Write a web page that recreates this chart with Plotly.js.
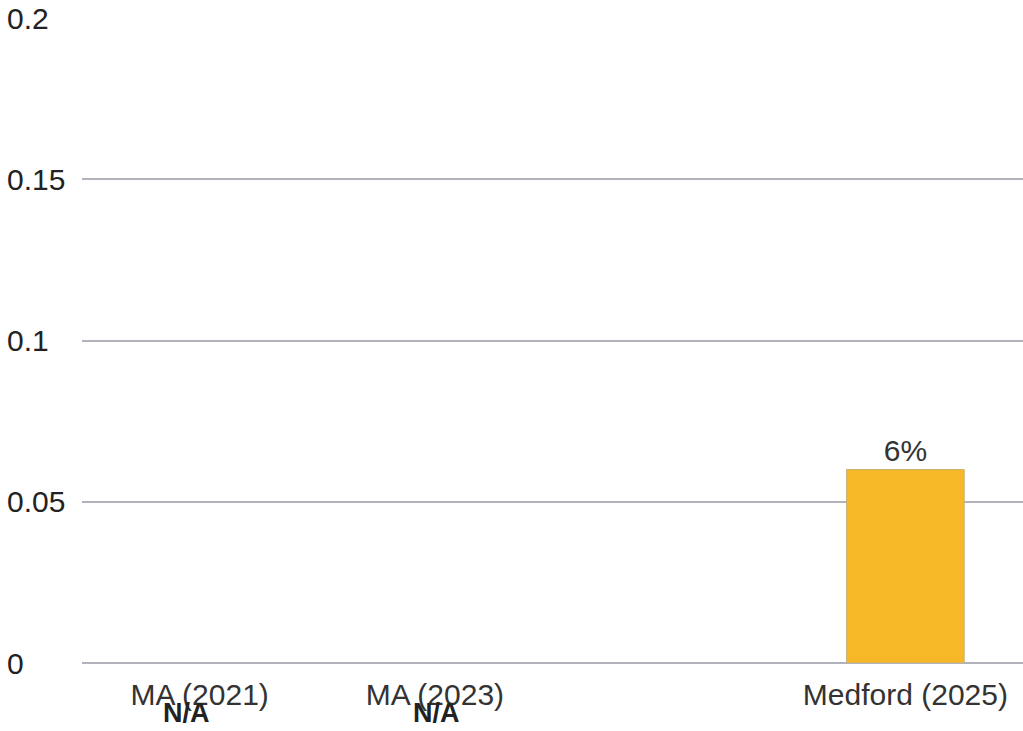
<!DOCTYPE html>
<html>
<head>
<meta charset="utf-8">
<script src="https://cdn.plot.ly/plotly-3.0.1.min.js"></script>
<style>html,body{margin:0;padding:0;background:#fff;}#chart{width:1023px;height:731px;}</style>
</head>
<body>
<div id="chart"></div>
<script>
const categories = ["MA (2021)", "MA (2023)", " ", "Medford (2025)"];
const values = [null, null, null, 0.06];
const barLabels = ["", "", "", "6%"];
const naCategories = ["MA (2021)", "MA (2023)"];
const naText = ["N/A", "N/A"];
const yTicks = [0, 0.05, 0.1, 0.15, 0.2];
const yTickText = ["0", "0.05", "0.1", "0.15", "0.2"];

const font = "Liberation Sans, Arial, sans-serif";

const annotations = [];
naCategories.forEach((c, i) => {
  annotations.push({
    x: c, y: 0, xref: 'x', yref: 'y', text: '<b>' + naText[i] + '</b>',
    showarrow: false, yanchor: 'middle', xanchor: 'center',
    xshift: i === 0 ? -13 : 2, yshift: -50, borderpad: 0,
    font: {family: font, size: 27, color: '#222'}
  });
});
yTicks.forEach((v, i) => {
  annotations.push({
    x: 0, xref: 'paper', y: v, yref: 'y', text: yTickText[i],
    showarrow: false, xanchor: 'left', yanchor: 'middle', xshift: -77,
    font: {family: font, size: 30, color: '#222'}
  });
});

Plotly.newPlot('chart', [{
  type: 'bar',
  x: categories,
  y: values,
  text: barLabels,
  textposition: 'outside',
  cliponaxis: false,
  textfont: {family: font, size: 30, color: '#333'},
  marker: {color: '#F6B826', line: {color: '#c9b27a', width: 1}},
  hoverinfo: 'none'
}], {
  width: 1023, height: 731,
  margin: {l: 82, r: 0, t: 18, b: 68},
  paper_bgcolor: '#fff', plot_bgcolor: '#fff',
  bargap: 0.5,
  showlegend: false,
  font: {family: font, size: 30, color: '#333'},
  xaxis: {
    type: 'category', categoryorder: 'array', categoryarray: categories,
    showgrid: false, showline: false, zeroline: false,
    ticks: 'outside', ticklen: 5, tickcolor: 'rgba(0,0,0,0)',
    tickfont: {family: font, size: 30, color: '#333'}
  },
  yaxis: {
    range: [0, 0.2], tickvals: yTicks, showticklabels: false,
    showgrid: true, gridcolor: '#b2b2ba', gridwidth: 2,
    zeroline: true, zerolinecolor: '#b2b2ba', zerolinewidth: 2,
    showline: false
  },
  annotations: annotations
}, {staticPlot: true});
</script>
</body>
</html>
